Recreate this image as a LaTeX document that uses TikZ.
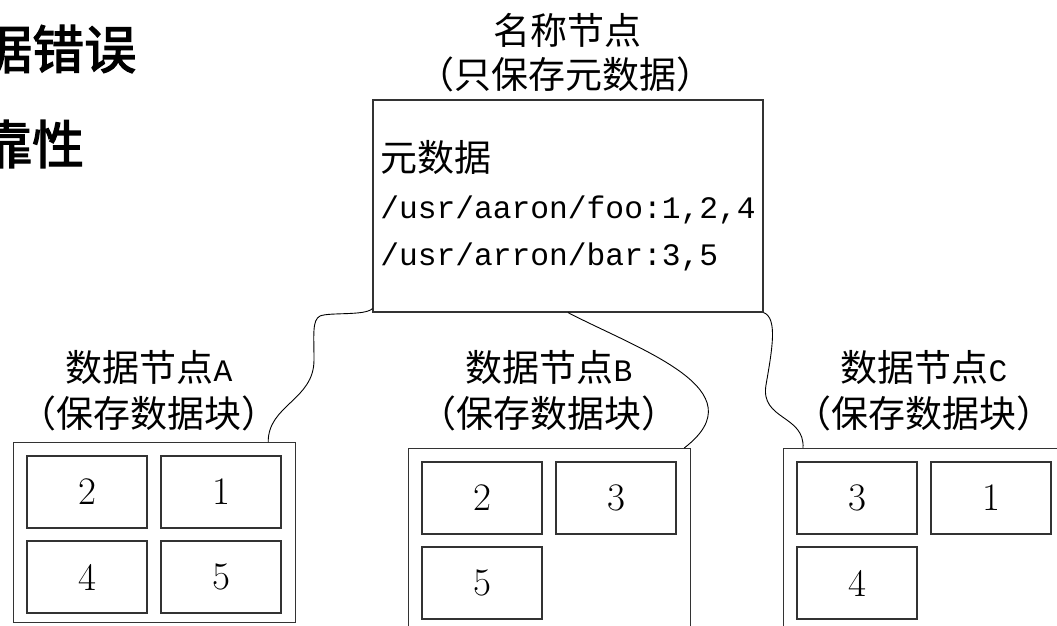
\documentclass[tikz,border=0pt]{standalone}
\usepackage{fontspec}
\usetikzlibrary{calc}
\newfontfamily\cjk{Noto Sans CJK SC}
\newfontfamily\headfont{Noto Sans CJK SC}[FakeBold=2.5]
\newfontfamily\pathfont{Liberation Mono}[Scale=0.845]
\begin{document}
\begin{tikzpicture}[x=1pt,y=1pt,
    box/.style={draw=black!80,line width=1.2pt},
    blk/.style={box,minimum width=120pt,minimum height=72pt,inner sep=0pt,font=\fontsize{39}{44}\selectfont},
    dn/.style={box,minimum width=282pt,minimum height=180pt,anchor=north west},
    lbl/.style={inner sep=0pt,font=\cjk\fontsize{37}{44}\selectfont},
    head/.style={anchor=west,inner sep=0pt,font=\headfont\fontsize{52}{60}\selectfont},
    link/.style={line width=0.9pt}]
    \useasboundingbox (0,0) rectangle (1057,-626);

    % cut-off headline
    \node[head] (headA) at (-20,-49) {据错误};
    \node[head] (headB) at (-20,-144) {靠性};

    % name node with its metadata
    \node[lbl] (metaT1) at (567,-30) {名称节点};
    \node[lbl] (metaT2) at (565,-74) {（只保存元数据）};
    \node[box,minimum width=390pt,minimum height=212pt,inner sep=0pt,align=left,
        font=\cjk\fontsize{37}{47}\selectfont] (meta) at (568,-206)
        {元数据\\\pathfont /usr/aaron/foo:1,2,4\\\pathfont /usr/arron/bar:3,5};

    % data nodes and their titles
    \foreach \n/\x/\y/\tx in {A/13/-442/149, B/408/-448/549, C/783/-448/924} {
        \node[dn] (dn\n) at (\x,\y) {};
        \node[lbl] (lbl\n a) at (\tx,-367) {数据节点{\pathfont\n}};
        \node[lbl] (lbl\n b) at (\tx,-413) {（保存数据块）};
    };

    % blocks
    \foreach \n/\i/\dx/\dy/\v in {A/1/74/50/2, A/2/208/50/1, A/3/74/135/4, A/4/208/135/5,
        B/1/74/50/2, B/2/208/50/3, B/3/74/135/5,
        C/1/74/50/3, C/2/208/50/1, C/3/74/135/4}
        \node[blk] (blk\n\i) at ($(dn\n.north west)+(\dx,-\dy)$) {\v};

    % links from the name node
    \draw[link] ($(meta.south west)+(0,4)$) .. controls (365,-316) and (330,-312) .. (320,-316)
        .. controls (312,-320) and (314,-335) .. (314,-360)
        .. controls (314,-400) and (268,-405) .. ($(dnA.north east)+(-28,0)$);
    \draw[link] (meta.south) .. controls (640,-350) and (760,-390) .. ($(dnB.north east)+(-7,0)$);
    \draw[link] (meta.south east) .. controls (778,-318) and (772,-350) .. (766,-385)
        .. controls (760,-420) and (805,-415) .. ($(dnC.north west)+(20,0)$);
\end{tikzpicture}
\end{document}
